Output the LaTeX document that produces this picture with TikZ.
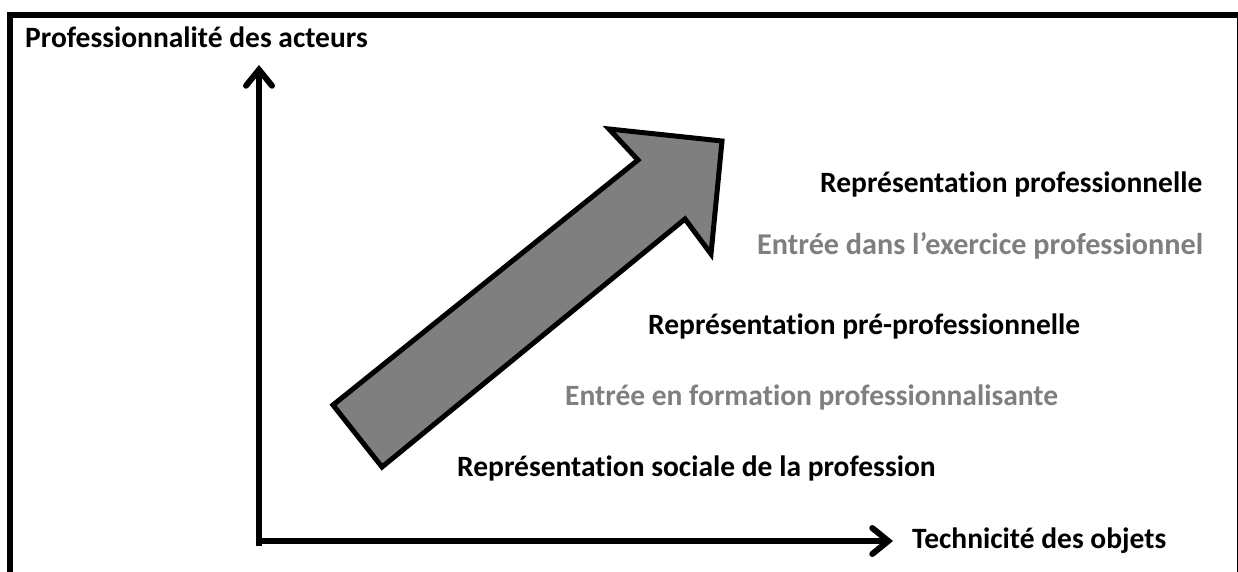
\documentclass[tikz,border=0pt]{standalone}
\usepackage{fontspec}
\setmainfont{Carlito}[Ligatures=NoCommon]
\usetikzlibrary{arrows.meta}
\definecolor{midgray}{RGB}{127,127,127}
\begin{document}
\begin{tikzpicture}[x=1pt,y=-1pt,
  lbl/.style={anchor=base west,inner sep=0pt,font=\fontsize{29.5}{34}\selectfont\bfseries},
  sublbl/.style={lbl,text=midgray},
  axis/.style={line width=6pt,-{Straight Barb[length=16pt,width=26pt,line cap=round]}},
  bigarrow/.style={fill=midgray,draw=black,line width=5pt,line join=miter}]
\useasboundingbox (0,0) rectangle (1238,572);
\clip (0,0) rectangle (1238,572);
\fill[white] (0,0) rectangle (1238,572);
\draw[line width=6pt] (9.5,15) rectangle (1239.5,600);
% texts
\node[lbl] (yl) at (25,48) {Professionnalité des acteurs};
\node[lbl] (r3) at (820,192) {Représentation professionnelle};
\node[sublbl,font=\fontsize{30.2}{34}\selectfont\bfseries] (e2) at (757,254) {Entrée dans l’exercice professionnel};
\node[lbl] (r2) at (648,334) {Représentation pré-professionnelle};
\node[sublbl] (e1) at (565,405) {Entrée en formation professionnalisante};
\node[lbl] (r1) at (457,476) {Représentation sociale de la profession};
\node[lbl] (xl) at (912,548) {Technicité des objets};
% axes
\coordinate (Ob) at (259,546);
\coordinate (O) at (256,541);
\coordinate (Y) at (259,65);
\coordinate (X) at (893,541);
\draw[axis] (Ob) -- (Y);
\draw[axis] (O) -- (X);
% big arrow
\coordinate (t1) at (333,405);
\coordinate (n1) at (638,160);
\coordinate (b1) at (609,129);
\coordinate (tip) at (722,141);
\coordinate (b2) at (711,254);
\coordinate (n2) at (685,219);
\coordinate (t2) at (382,467);
\draw[bigarrow] (t1) -- (n1) -- (b1) -- (tip) -- (b2) -- (n2) -- (t2) -- cycle;
\end{tikzpicture}
\end{document}
